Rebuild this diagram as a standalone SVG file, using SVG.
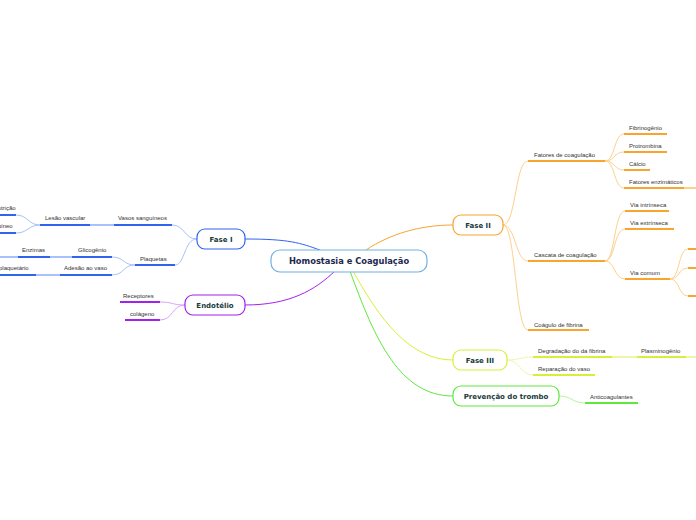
<svg xmlns="http://www.w3.org/2000/svg" width="696" height="520" viewBox="0 0 696 520">
<style>
text{font-family:"Liberation Sans",Arial,sans-serif}
.leaf{font-size:6px;fill:#333}
.node{font-family:"DejaVu Sans",Verdana,sans-serif;font-size:7px;font-weight:bold;fill:#173b3b;text-anchor:middle}
.c{fill:none;stroke-width:1}
.u{fill:none;stroke-width:2}
.blue{stroke:#3064ee}.lblue{stroke:#a9c1fa}
.pur{stroke:#a321ee}.lpur{stroke:#d9a4f7}
.org{stroke:#f7a52c}.lorg{stroke:#fdd08e}
.yel{stroke:#d9ee3a}.lyel{stroke:#eef7a8}
.grn{stroke:#5de93b}.lgrn{stroke:#b3f59c}
</style>
<rect width="696" height="520" fill="#fff"/>
<g id="connectors">
  <path class="c blue" d="M245,239 C290,239 300,243 320,250" stroke-width="1.5"/>
  <path class="c pur" d="M245,305 C290,305 315,290 335,271" stroke-width="1.5"/>
  <path class="c org" d="M366,250 C390,234 420,225 453,225" stroke-width="1.5"/>
  <path class="c yel" d="M353,271 C380,320 410,360 453,360" stroke-width="1.5"/>
  <path class="c grn" d="M350,271 C375,340 400,396 453,396" stroke-width="1.5"/>
  <path class="c lblue" d="M197,239 C184,239 185,225 172,225"/>
  <path class="c lblue" d="M197,239 C184,239 185,265 175,265"/>
  <path class="u lblue" d="M90,225 H114"/>
  <path class="c lblue" d="M40,225 C28,225 28,215 16,215"/>
  <path class="c lblue" d="M40,225 C28,225 28,233 16,233"/>
  <path class="c lblue" d="M135,265 C123,265 124,257 112,257"/>
  <path class="c lblue" d="M135,265 C123,265 124,275 112,275"/>
  <path class="u lblue" d="M50,257 H72 M0,257 H18"/>
  <path class="u lblue" d="M36,275 H60"/>
  <path class="c lpur" d="M185,305 C172,305 173,302 160,302"/>
  <path class="c lpur" d="M185,305 C172,305 173,320 160,320"/>
  <path class="c lorg" d="M503,225 C516,225 515,161 528,161"/>
  <path class="c lorg" d="M503,225 C516,225 515,261 528,261"/>
  <path class="c lorg" d="M503,225 C516,225 515,330 528,330"/>
  <path class="c lorg" d="M605,161 C615,161 614,134 624,134"/>
  <path class="c lorg" d="M605,161 C615,161 614,152 624,152"/>
  <path class="c lorg" d="M605,161 C615,161 614,170 624,170"/>
  <path class="c lorg" d="M605,161 C615,161 614,188 624,188"/>
  <path class="u lorg" d="M684,188 H696"/>
  <path class="c lorg" d="M605,261 C615,261 614,211 625,211"/>
  <path class="c lorg" d="M605,261 C615,261 614,229 625,229"/>
  <path class="c lorg" d="M605,261 C615,261 614,279 625,279"/>
  <path class="c lorg" d="M670,279 C680,279 678,249 688,249"/>
  <path class="c lorg" d="M670,279 C680,279 678,268 688,268"/>
  <path class="c lorg" d="M670,279 C680,279 678,296 688,296"/>
  <path class="c lyel" d="M507,360 C520,360 520,357 533,357"/>
  <path class="c lyel" d="M507,360 C520,360 520,375 533,375"/>
  <path class="u lyel" d="M612,357 H637 M686,357 H696"/>
  <path class="c lgrn" d="M559,396 C572,396 572,403 585,403"/>
</g>
<g id="center">
  <rect x="271" y="250" width="156" height="22" rx="9" fill="#fff" stroke="#72b2e4" stroke-width="1.2"/>
  <text x="349" y="264" class="node" style="font-size:8.3px;fill:#1b2850">Homostasia e Coagulação</text>
</g>
<g id="fase1">
  <rect x="197" y="229" width="48" height="20" rx="8" fill="#fff" stroke="#3064ee" stroke-width="1.2"/>
  <text x="221" y="241.5" class="node">Fase I</text>
</g>
<g id="endotelio">
  <rect x="185" y="295" width="60" height="20" rx="8" fill="#fff" stroke="#a321ee" stroke-width="1.2"/>
  <text x="215" y="307.5" class="node">Endotélio</text>
</g>
<g id="fase2">
  <rect x="453" y="215" width="50" height="20" rx="8" fill="#fff" stroke="#f7a52c" stroke-width="1.2"/>
  <text x="478" y="227.5" class="node">Fase II</text>
</g>
<g id="fase3">
  <rect x="453" y="350" width="54" height="20" rx="8" fill="#fff" stroke="#d9ee3a" stroke-width="1.2"/>
  <text x="480" y="362.5" class="node">Fase III</text>
</g>
<g id="prevencao">
  <rect x="453" y="386" width="106" height="20" rx="8" fill="#fff" stroke="#5de93b" stroke-width="1.2"/>
  <text x="506" y="398.5" class="node">Prevenção do trombo</text>
</g>
<g id="vasos"><path class="u blue" d="M114,225 H172"/><text class="leaf" x="118" y="220">Vasos sanguíneos</text></g>
<g id="lesao"><path class="u blue" d="M40,225 H90"/><text class="leaf" x="45" y="220">Lesão vascular</text></g>
<g id="vasoconstricao"><path class="u blue" d="M0,215 H16"/><text class="leaf" x="-25" y="210">Vasoconstrição</text></g>
<g id="espasmo"><path class="u blue" d="M0,233 H16"/><text class="leaf" x="-42" y="228">Espasmo sanguíneo</text></g>
<g id="plaquetas"><path class="u blue" d="M135,265 H175"/><text class="leaf" x="140" y="261">Plaquetas</text></g>
<g id="glicogenio"><path class="u blue" d="M72,257 H112"/><text class="leaf" x="78" y="252">Glicogênio</text></g>
<g id="enzimas"><path class="u blue" d="M18,257 H50"/><text class="leaf" x="22" y="252">Enzimas</text></g>
<g id="adesao"><path class="u blue" d="M60,275 H112"/><text class="leaf" x="64" y="270">Adesão ao vaso</text></g>
<g id="tampao"><path class="u blue" d="M0,275 H36"/><text class="leaf" x="-24" y="270">Tampão plaquetário</text></g>
<g id="receptores"><path class="u pur" d="M120,302 H160"/><text class="leaf" x="123" y="298">Receptores</text></g>
<g id="colageno"><path class="u pur" d="M125,320 H160"/><text class="leaf" x="130" y="316">colágeno</text></g>
<g id="fatores"><path class="u org" d="M528,161 H605"/><text class="leaf" x="534" y="157">Fatores de coagulação</text></g>
<g id="fibrinogenio"><path class="u org" d="M624,134 H667"/><text class="leaf" x="629" y="130">Fibrinogênio</text></g>
<g id="protrombina"><path class="u org" d="M624,152 H667"/><text class="leaf" x="629" y="148">Protrombina</text></g>
<g id="calcio"><path class="u org" d="M624,170 H650"/><text class="leaf" x="629" y="166">Cálcio</text></g>
<g id="enzimaticos"><path class="u org" d="M624,188 H684"/><text class="leaf" x="629" y="184">Fatores enzimáticos</text></g>
<g id="cascata"><path class="u org" d="M528,261 H605"/><text class="leaf" x="534" y="257">Cascata de coagulação</text></g>
<g id="intrinseca"><path class="u org" d="M625,211 H669"/><text class="leaf" x="630" y="207">Via intrínseca</text></g>
<g id="extrinseca"><path class="u org" d="M625,229 H674"/><text class="leaf" x="630" y="225">Via extrínseca</text></g>
<g id="comum"><path class="u org" d="M625,279 H670"/><text class="leaf" x="630" y="275">Via comum</text></g>
<g id="comum1"><path class="u org" d="M688,249 H696"/></g>
<g id="comum2"><path class="u org" d="M688,268 H696"/></g>
<g id="comum3"><path class="u org" d="M688,296 H696"/></g>
<g id="coagulo"><path class="u org" d="M528,330 H589"/><text class="leaf" x="534" y="327">Coágulo de fibrina</text></g>
<g id="degradacao"><path class="u yel" d="M533,357 H612"/><text class="leaf" x="538" y="353">Degradação do da fibrina</text></g>
<g id="plasminogenio"><path class="u yel" d="M637,357 H686"/><text class="leaf" x="641" y="353">Plasminogênio</text></g>
<g id="reparacao"><path class="u yel" d="M533,375 H595"/><text class="leaf" x="538" y="371">Reparação do vaso</text></g>
<g id="anticoagulantes"><path class="u grn" d="M585,403 H638"/><text class="leaf" x="590" y="399">Anticoagulantes</text></g>
</svg>
